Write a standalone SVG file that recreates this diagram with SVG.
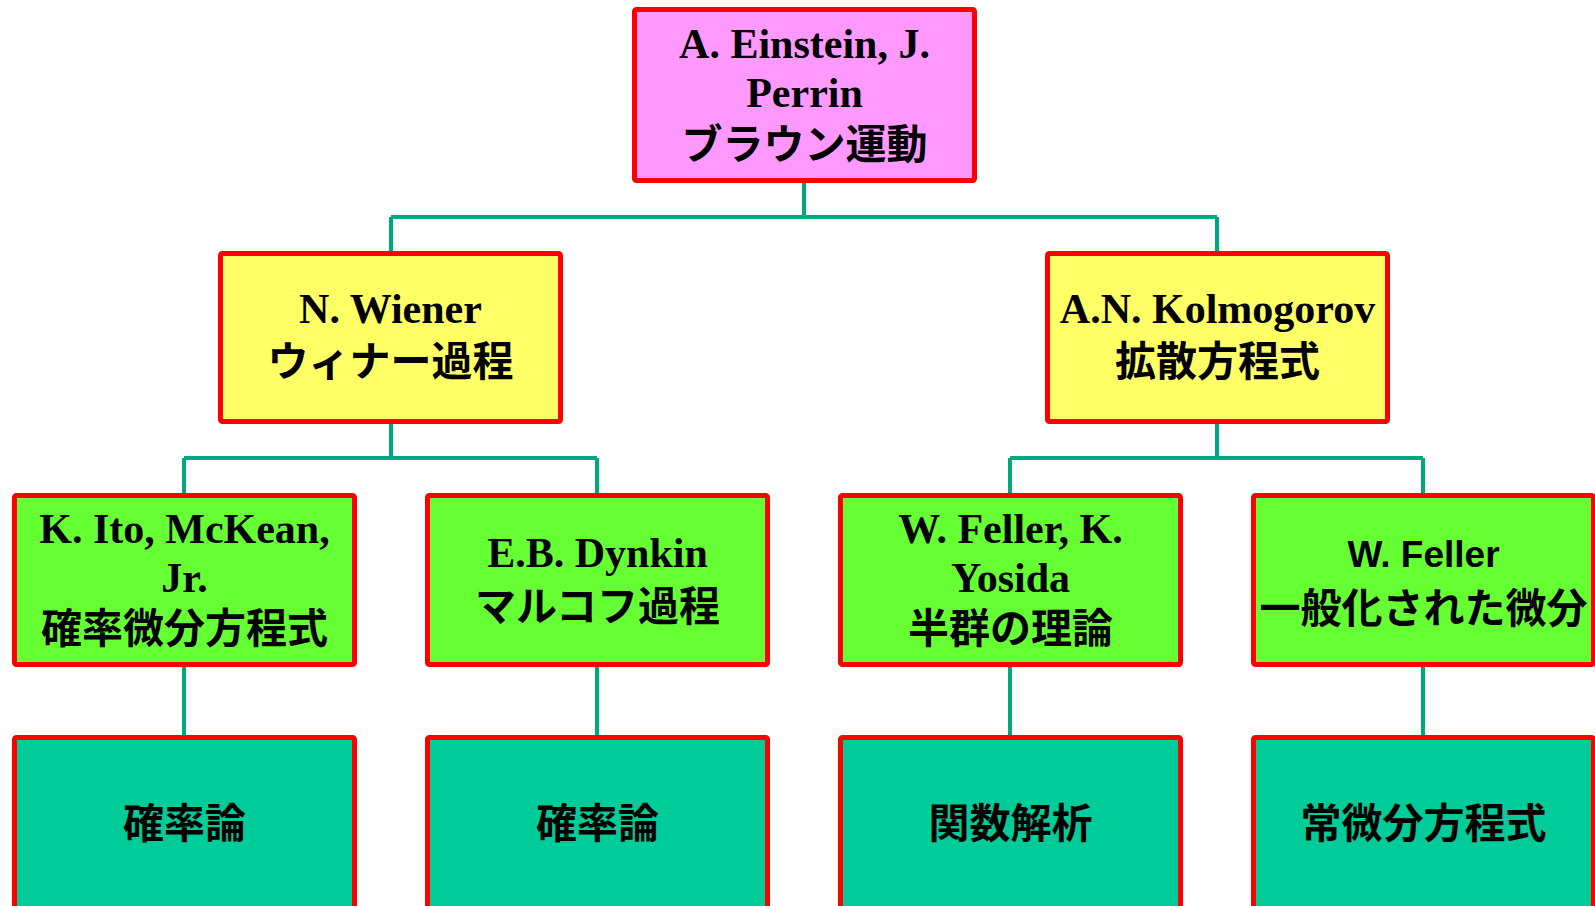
<svg xmlns="http://www.w3.org/2000/svg" width="1595" height="906" viewBox="0 0 1595 906">
<style>
.box{stroke:#FF0000;stroke-width:5;}
.pink{fill:#FF99FF;}
.yellow{fill:#FFFF66;}
.green{fill:#66FF33;}
.teal{fill:#00CC99;}
.lat{font-family:"Liberation Serif","Times New Roman",serif;font-weight:bold;font-size:42px;fill:#000;text-anchor:middle;}
.sans{font-family:"Liberation Sans",Arial,sans-serif;font-weight:bold;font-size:37px;fill:#000;text-anchor:middle;}
.jp{font-family:"Noto Sans CJK JP","Noto Sans CJK SC",sans-serif;font-weight:bold;font-size:41px;fill:#000;text-anchor:middle;}
.conn{fill:none;stroke:#00A880;stroke-width:4;}
</style>
<rect width="1595" height="906" fill="#FFFFFF"/>
<g id="connectors">
<path class="conn" d="M804,183 V217 M391,217 H1217 M391,217 V251 M1217,217 V251"/>
<path class="conn" d="M391,424 V458 M184,458 H597 M184,458 V493 M597,458 V493"/>
<path class="conn" d="M1217,424 V458 M1010,458 H1423 M1010,458 V493 M1423,458 V493"/>
<path class="conn" d="M184,667 V735 M597,667 V735 M1010,667 V735 M1423,667 V735"/>
</g>
<g id="einstein">
<rect class="box pink" x="634.5" y="9.5" width="340" height="171" rx="2"/>
<text class="lat" x="804.5" y="58">A. Einstein, J.</text>
<text class="lat" x="804.5" y="107">Perrin</text>
<text class="jp" x="804.5" y="159">ブラウン運動</text>
</g>
<g id="wiener">
<rect class="box yellow" x="220.5" y="253.5" width="340" height="168" rx="2"/>
<text class="lat" x="390.5" y="323">N. Wiener</text>
<text class="jp" x="390.5" y="376">ウィナー過程</text>
</g>
<g id="kolmogorov">
<rect class="box yellow" x="1047.5" y="253.5" width="340" height="168" rx="2"/>
<text class="lat" x="1217.5" y="323">A.N. Kolmogorov</text>
<text class="jp" x="1217.5" y="376">拡散方程式</text>
</g>
<g id="ito">
<rect class="box green" x="14.5" y="495.5" width="340" height="169" rx="2"/>
<text class="lat" x="184.5" y="543">K. Ito, McKean,</text>
<text class="lat" x="184.5" y="592">Jr.</text>
<text class="jp" x="184.5" y="643">確率微分方程式</text>
</g>
<g id="dynkin">
<rect class="box green" x="427.5" y="495.5" width="340" height="169" rx="2"/>
<text class="lat" x="597.5" y="567">E.B. Dynkin</text>
<text class="jp" x="597.5" y="621">マルコフ過程</text>
</g>
<g id="feller-yosida">
<rect class="box green" x="840.5" y="495.5" width="340" height="169" rx="2"/>
<text class="lat" x="1010.5" y="543">W. Feller, K.</text>
<text class="lat" x="1010.5" y="592">Yosida</text>
<text class="jp" x="1010.5" y="643">半群の理論</text>
</g>
<g id="feller">
<rect class="box green" x="1253.5" y="495.5" width="340" height="169" rx="2"/>
<text class="sans" x="1423.5" y="567">W. Feller</text>
<text class="jp" x="1423.5" y="623">一般化された微分</text>
</g>
<g id="prob1">
<rect class="box teal" x="14.5" y="737.5" width="340" height="190" rx="2"/>
<text class="jp" x="184.5" y="838">確率論</text>
</g>
<g id="prob2">
<rect class="box teal" x="427.5" y="737.5" width="340" height="190" rx="2"/>
<text class="jp" x="597.5" y="838">確率論</text>
</g>
<g id="funcanal">
<rect class="box teal" x="840.5" y="737.5" width="340" height="190" rx="2"/>
<text class="jp" x="1010.5" y="838">関数解析</text>
</g>
<g id="ode">
<rect class="box teal" x="1253.5" y="737.5" width="340" height="190" rx="2"/>
<text class="jp" x="1423.5" y="838">常微分方程式</text>
</g>
</svg>
